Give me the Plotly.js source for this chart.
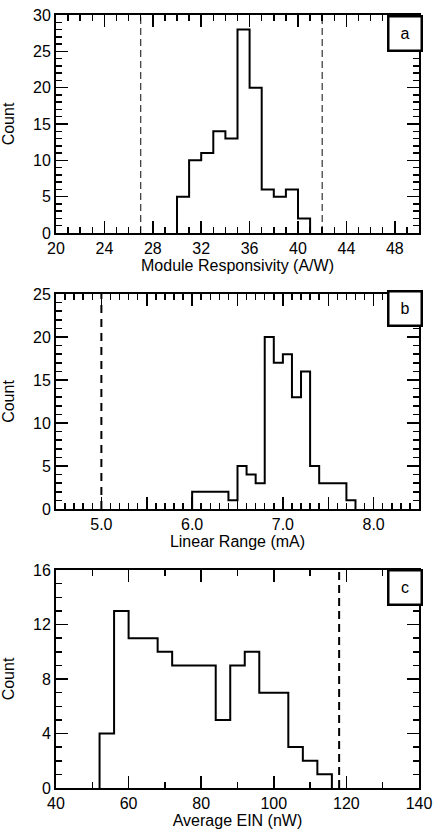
<!DOCTYPE html>
<html>
<head>
<meta charset="utf-8">
<script src="https://cdn.plot.ly/plotly-3.0.1.min.js"></script>
<style>html,body{margin:0;padding:0;background:#fff;}#chart{width:435px;height:838px;}</style>
</head>
<body>
<div id="chart"></div>
<script>
// Panel a: Module Responsivity histogram (bin width 1 A/W)
const respEdges = [30, 31, 32, 33, 34, 35, 36, 37, 38, 39, 40, 41];
const respCounts = [5, 10, 11, 14, 13, 28, 20, 6, 5, 6, 2];
const respLimits = [27, 42];

// Panel b: Linear Range histogram (bin width 0.1 mA)
const linEdges = [6.0, 6.1, 6.2, 6.3, 6.4, 6.5, 6.6, 6.7, 6.8, 6.9, 7.0, 7.1, 7.2, 7.3, 7.4, 7.5, 7.6, 7.7, 7.8];
const linCounts = [2, 2, 2, 2, 1, 5, 4, 3, 20, 17, 18, 13, 16, 5, 3, 3, 3, 1];
const linLimits = [5.0];
const linTickVals = [4.5, 5.0, 5.5, 6.0, 6.5, 7.0, 7.5, 8.0, 8.5];
const linTickText = ['', '5.0', '', '6.0', '', '7.0', '', '8.0', ''];

// Panel c: Average EIN histogram (bin width 4 nW)
const einEdges = [52, 56, 60, 64, 68, 72, 76, 80, 84, 88, 92, 96, 100, 104, 108, 112, 116];
const einCounts = [4, 13, 11, 11, 10, 9, 9, 9, 5, 9, 10, 7, 7, 3, 2, 1];
const einLimits = [118];

const panelLabels = ['a', 'b', 'c'];
const xTitles = ['Module Responsivity (A/W)', 'Linear Range (mA)', 'Average EIN (nW)'];
const yTitle = 'Count';

function stepTrace(edges, counts, xa, ya) {
  const x = [edges[0]], y = [0];
  for (let i = 0; i < counts.length; i++) { x.push(edges[i]); y.push(counts[i]); }
  x.push(edges[edges.length - 1]); y.push(0);
  return {x: x, y: y, xaxis: xa, yaxis: ya, type: 'scatter', mode: 'lines',
    line: {shape: 'hv', color: '#000', width: 2}, hoverinfo: 'skip', showlegend: false};
}

const FONT = 'Liberation Sans, Arial, Helvetica, sans-serif';
const baseAxis = {
  showline: true, linecolor: '#000', linewidth: 2, mirror: 'ticks',
  ticks: 'inside', ticklen: 12, tickwidth: 1.5, tickcolor: '#000',
  showgrid: false, zeroline: false, fixedrange: true,
  tickfont: {family: FONT, size: 16, color: '#000'}
};
function ax(extra) { return Object.assign({}, baseAxis, extra); }
function minor(d) { return {dtick: d, ticks: 'inside', ticklen: 6, tickwidth: 1.5, tickcolor: '#000', showgrid: false}; }

const data = [
  stepTrace(respEdges, respCounts, 'x', 'y'),
  stepTrace(linEdges, linCounts, 'x2', 'y2'),
  stepTrace(einEdges, einCounts, 'x3', 'y3')
];

function vlines(vals, xa, ya, w, dash, color) {
  return vals.map(v => ({type: 'line', xref: xa, yref: ya + ' domain', x0: v, x1: v, y0: 0, y1: 1,
    line: {color: color, width: w, dash: dash}, layer: 'below'}));
}

const shapes = [].concat(
  vlines(respLimits, 'x', 'y', 1.2, '7px,4px', '#333'),
  vlines(linLimits, 'x2', 'y2', 2, '8px,6px', '#000'),
  vlines(einLimits, 'x3', 'y3', 2, '8px,5px', '#000')
);

const labelY = [0.9767, 0.6197, 0.2594];
const annotations = panelLabels.map((t, i) => ({
  text: t, xref: 'paper', yref: 'paper', x: 0.9614, y: labelY[i],
  xanchor: 'center', yanchor: 'middle', showarrow: false,
  font: {family: FONT, size: 16, color: '#000'},
  bgcolor: '#fff', bordercolor: '#000', borderwidth: 2.5, borderpad: 0,
  width: 31, height: 32
}));

const titleFont = {family: FONT, size: 16, color: '#000'};
const layout = {
  width: 435, height: 838,
  margin: {l: 56, r: 16, t: 15, b: 50},
  paper_bgcolor: '#fff', plot_bgcolor: '#fff',
  showlegend: false,
  xaxis: ax({domain: [0, 1], anchor: 'y', range: [20, 50], tick0: 20, dtick: 4, minor: minor(1),
    title: {text: xTitles[0], font: titleFont, standoff: 2}}),
  yaxis: ax({domain: [0.718, 1], anchor: 'x', range: [0, 30], dtick: 5, minor: minor(1),
    title: {text: yTitle, font: titleFont}}),
  xaxis2: ax({domain: [0, 1], anchor: 'y2', range: [4.5, 8.5], tickmode: 'array', tickvals: linTickVals, ticktext: linTickText,
    minor: Object.assign(minor(0.1), {tick0: 4.5}),
    title: {text: xTitles[1], font: titleFont, standoff: 2}}),
  yaxis2: ax({domain: [0.361, 0.639], anchor: 'x2', range: [0, 25], dtick: 5, minor: minor(1),
    title: {text: yTitle, font: titleFont}}),
  xaxis3: ax({domain: [0, 1], anchor: 'y3', range: [40, 140], tick0: 40, dtick: 20, minor: minor(10),
    title: {text: xTitles[2], font: titleFont, standoff: 2}}),
  yaxis3: ax({domain: [0, 0.282], anchor: 'x3', range: [0, 16], dtick: 4, minor: minor(1),
    title: {text: yTitle, font: titleFont}}),
  shapes: shapes,
  annotations: annotations
};

Plotly.newPlot('chart', data, layout, {displayModeBar: false, staticPlot: true});
</script>
</body>
</html>
